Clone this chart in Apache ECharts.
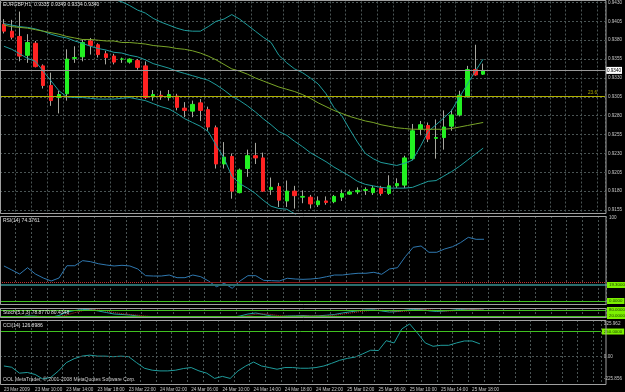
<!DOCTYPE html>
<html><head><meta charset="utf-8">
<script src="https://cdn.jsdelivr.net/npm/echarts@6/dist/echarts.min.js"></script>
<style>html,body{margin:0;padding:0;background:#000;overflow:hidden}#c{width:625px;height:392px}</style>
</head><body><div id="c"></div><script>
const categories = [
'23 Mar 06:00','23 Mar 07:00','23 Mar 08:00','23 Mar 09:00','23 Mar 10:00','23 Mar 11:00','23 Mar 12:00','23 Mar 13:00','23 Mar 14:00','23 Mar 15:00','23 Mar 16:00','23 Mar 17:00','23 Mar 18:00','23 Mar 19:00','23 Mar 20:00','23 Mar 21:00','23 Mar 22:00','23 Mar 23:00',
'24 Mar 00:00','24 Mar 01:00','24 Mar 02:00','24 Mar 03:00','24 Mar 04:00','24 Mar 05:00','24 Mar 06:00','24 Mar 07:00','24 Mar 08:00','24 Mar 09:00','24 Mar 10:00','24 Mar 11:00','24 Mar 12:00','24 Mar 13:00','24 Mar 14:00','24 Mar 15:00','24 Mar 16:00','24 Mar 17:00','24 Mar 18:00','24 Mar 19:00','24 Mar 20:00','24 Mar 21:00','24 Mar 22:00','24 Mar 23:00',
'25 Mar 00:00','25 Mar 01:00','25 Mar 02:00','25 Mar 03:00','25 Mar 04:00','25 Mar 05:00','25 Mar 06:00','25 Mar 07:00','25 Mar 08:00','25 Mar 09:00','25 Mar 10:00','25 Mar 11:00','25 Mar 12:00','25 Mar 13:00','25 Mar 14:00','25 Mar 15:00','25 Mar 16:00','25 Mar 17:00','25 Mar 18:00','25 Mar 19:00'];
const emptySlots = 15;
const firstLabel = '23 Mar 2009';
const labelEvery = 4;

const open  = [0.9401,0.9392,0.9385,0.9360,0.9376,0.9346,0.9320,0.9304,0.9309,0.9356,0.9358,0.9379,0.9374,0.9362,0.9359,0.9355,0.9351,0.9353,0.9346,0.9305,0.9307,0.9304,0.9306,0.9290,0.9286,0.9297,0.9288,0.9264,0.9216,0.9226,0.9178,0.9210,0.9227,0.9224,0.9182,0.9186,0.9167,0.9180,0.9172,0.9172,0.9162,0.9167,0.9166,0.9172,0.9176,0.9179,0.9181,0.9178,0.9184,0.9177,0.9187,0.9188,0.9223,0.9262,0.9267,0.9250,0.9251,0.9266,0.9281,0.9305,0.9341,0.9335];
const close = [0.9392,0.9384,0.9359,0.9377,0.9345,0.9320,0.9300,0.9308,0.9355,0.9357,0.9377,0.9373,0.9361,0.9357,0.9351,0.9355,0.9355,0.9344,0.9304,0.9308,0.9305,0.9308,0.9291,0.9287,0.9295,0.9287,0.9265,0.9216,0.9225,0.9180,0.9208,0.9227,0.9224,0.9180,0.9185,0.9168,0.9180,0.9174,0.9173,0.9163,0.9167,0.9165,0.9173,0.9177,0.9179,0.9181,0.9182,0.9184,0.9177,0.9187,0.9190,0.9224,0.9260,0.9268,0.9249,0.9251,0.9265,0.9281,0.9307,0.9341,0.9334,0.9340];
const low   = [0.9389,0.9381,0.9352,0.9350,0.9344,0.9316,0.9293,0.9283,0.9300,0.9350,0.9352,0.9361,0.9357,0.9348,0.9348,0.9350,0.9349,0.9341,0.9302,0.9300,0.9301,0.9300,0.9287,0.9278,0.9278,0.9273,0.9260,0.9210,0.9210,0.9170,0.9177,0.9199,0.9216,0.9179,0.9175,0.9159,0.9159,0.9157,0.9164,0.9157,0.9159,0.9162,0.9164,0.9167,0.9175,0.9176,0.9175,0.9175,0.9174,0.9175,0.9184,0.9184,0.9221,0.9254,0.9245,0.9223,0.9235,0.9260,0.9279,0.9304,0.9333,0.9334];
const high  = [0.9408,0.9407,0.9418,0.9388,0.9379,0.9348,0.9337,0.9313,0.9368,0.9372,0.9381,0.9383,0.9376,0.9366,0.9362,0.9357,0.9356,0.9355,0.9352,0.9314,0.9313,0.9314,0.9309,0.9298,0.9300,0.9302,0.9292,0.9267,0.9245,0.9230,0.9210,0.9235,0.9244,0.9231,0.9198,0.9191,0.9194,0.9187,0.9181,0.9175,0.9173,0.9173,0.9175,0.9182,0.9182,0.9185,0.9185,0.9187,0.9187,0.9201,0.9197,0.9227,0.9269,0.9273,0.9271,0.9275,0.9287,0.9288,0.9313,0.9346,0.9374,0.9349];

const bbUpper = [0.9436,0.9438,0.9441,0.9444,0.9447,0.9450,0.9454,0.9457,0.9458,0.9455,0.9450,0.9446,0.9442,0.9438,0.9434,0.9431,0.9426,0.9420,0.9416,0.9409,0.9404,0.9400,0.9396,0.9393,0.9392,0.9392,0.9398,0.9405,0.9408,0.9414,0.9408,0.9400,0.9392,0.9384,0.9377,0.9360,0.9350,0.9342,0.9337,0.9330,0.9322,0.9309,0.9291,0.9280,0.9262,0.9245,0.9230,0.9223,0.9218,0.9216,0.9214,0.9217,0.9221,0.9239,0.9259,0.9268,0.9277,0.9287,0.9305,0.9322,0.9339,0.9355];
const bbMiddle = [0.9402,0.9400,0.9398,0.9397,0.9395,0.9392,0.9388,0.9385,0.9383,0.9379,0.9376,0.9372,0.9369,0.9367,0.9364,0.9363,0.9360,0.9358,0.9354,0.9349,0.9346,0.9343,0.9339,0.9336,0.9333,0.9330,0.9327,0.9321,0.9314,0.9306,0.9300,0.9293,0.9285,0.9276,0.9268,0.9259,0.9254,0.9246,0.9239,0.9231,0.9225,0.9219,0.9212,0.9206,0.9200,0.9193,0.9189,0.9187,0.9185,0.9184,0.9184,0.9184,0.9185,0.9189,0.9193,0.9194,0.9200,0.9206,0.9213,0.9221,0.9229,0.9237];
const bbLower = [0.9372,0.9368,0.9362,0.9356,0.9352,0.9339,0.9326,0.9313,0.9305,0.9304,0.9304,0.9303,0.9302,0.9302,0.9302,0.9303,0.9304,0.9302,0.9300,0.9296,0.9292,0.9289,0.9283,0.9276,0.9271,0.9266,0.9259,0.9241,0.9224,0.9200,0.9190,0.9184,0.9177,0.9168,0.9160,0.9157,0.9156,0.9150,0.9141,0.9133,0.9128,0.9129,0.9133,0.9132,0.9138,0.9141,0.9146,0.9148,0.9148,0.9147,0.9146,0.9145,0.9146,0.9139,0.9127,0.9120,0.9123,0.9125,0.9121,0.9120,0.9119,0.9119];
const maLine = [0.9400,0.9398,0.9397,0.9396,0.9394,0.9392,0.9390,0.9388,0.9385,0.9383,0.9381,0.9381,0.9380,0.9379,0.9379,0.9377,0.9377,0.9376,0.9375,0.9373,0.9372,0.9371,0.9369,0.9368,0.9366,0.9363,0.9359,0.9354,0.9348,0.9342,0.9339,0.9335,0.9330,0.9326,0.9322,0.9318,0.9315,0.9312,0.9308,0.9303,0.9297,0.9292,0.9287,0.9283,0.9279,0.9276,0.9273,0.9271,0.9268,0.9266,0.9264,0.9263,0.9262,0.9262,0.9262,0.9262,0.9262,0.9263,0.9265,0.9267,0.9269,0.9271];

const rsi = [42.2,37.4,32.5,40.1,32.5,27.7,24.1,27.7,42.5,42.5,48.6,47.4,44.9,43.4,42.2,43.0,42.2,38.6,30.5,30.1,30.1,31.3,28.1,28.1,31.3,29.3,24.1,17.2,21.3,15.3,24.1,30.5,30.5,24.9,24.5,24.1,27.4,26.5,26.1,26.5,27.4,29.3,31.3,31.3,32.5,33.4,33.4,34.6,32.2,38.6,40.1,53.4,64.7,66.3,58.7,58.7,62.7,65.4,70.2,76.7,74.3,74.3761];
const stochMain = [10,8,12,20,18,10,8,25,60,75,85,85,70,55,40,35,30,20,8,10,12,15,10,8,12,10,6,4,10,8,20,40,50,35,20,15,20,22,25,20,22,28,35,50,62,72,80,82,70,60,65,78,85,85,72,65,70,78,85,88,82,78.877];
const stochSignal = [15,11,10,13,17,16,12,14,31,53,73,82,80,70,55,43,35,28,19,13,10,12,12,11,10,10,9,7,7,7,13,23,37,42,35,23,18,19,22,22,22,23,28,38,49,61,71,78,77,71,65,68,76,83,81,74,69,71,78,84,85,80.4348];
const cci = [-94.8,-107.6,-166.7,-159.8,-179.5,-225.856,-209.0,-144.0,-61.3,-21.9,3.7,13.6,3.7,3.7,-2.2,3.7,-2.2,-61.3,-117.5,-137.0,-144.0,-144.0,-137.0,-120.4,-110.6,-144.0,-166.7,-219.0,-199.0,-219.0,-144.0,-94.8,-55.4,-94.8,-110.6,-127.3,-110.6,-110.6,-117.5,-117.5,-110.6,-94.8,-68.2,-38.6,-18.9,-6.1,27.4,62.9,59.9,158.4,135.8,276.7,325.962,234.3,135.8,102.3,112.1,112.1,135.8,155.5,155.5,126.8986];

const priceTicks = [0.9155,0.9180,0.9205,0.9230,0.9255,0.9280,0.9305,0.9330,0.9355,0.9380,0.9405,0.9430];
const bidPrice = 0.9340;
const fibLevel = 0.93063, fibText = '23.6';
const rsiLevels = {red: 22, teal: 19.3, green: 0};
const rsiRedSegment = [19, 58];
const stochLevels = [80, 20];
const cciLevel = 250;
const cciTicks = [325.962, 0, -225.856];

const FONT = 'Liberation Sans';
const TXT = '#c8c8c8';
const GRIDC = '#4a5454';
const cats = categories.concat(new Array(emptySlots).fill(''));
const wickData = open.map((o,i)=>[o, close[i], low[i], high[i]]);
const bodyData = open.map((o,i)=>[o, close[i], Math.min(o,close[i]), Math.max(o,close[i])]);

const L = -1.7, W = 607.7;
const panes = [
  {top:0, height:214},
  {top:216, height:89},
  {top:308, height:10},
  {top:320, height:65}
];
const chart = echarts.init(document.getElementById('c'), null, {renderer:'canvas'});
const xAxes = panes.map((p,g)=>({
  gridIndex:g, type:'category', data:cats, boundaryGap:true,
  axisLine:{show:false}, axisTick:{show:false},
  axisLabel:{show:g===3, interval:(i)=>i%labelEvery===0 && i<categories.length,
    formatter:(v,i)=> i===0 ? firstLabel : v, align:'left', color:TXT, fontSize:4.6, fontFamily:FONT, margin:3},
  splitLine:{show:true, interval:1, lineStyle:{color:GRIDC, type:[2,2], width:1}}
}));
const greenLab = (txt)=>({show:true, position:'end', distance:1, formatter:txt, backgroundColor:'#7cf000', color:'#1a3a00', fontSize:4.4, fontFamily:FONT, padding:[1,2]});
const option = {
  backgroundColor:'#000',
  animation:false,
  grid: panes.map(p=>({left:L, width:W, top:p.top, height:p.height})),
  xAxis: xAxes,
  yAxis: [
    {gridIndex:0, type:'value', position:'right', min:0.91497, max:0.94313,
     axisLine:{show:false}, axisTick:{show:false, customValues:priceTicks},
     axisLabel:{customValues:priceTicks, formatter:v=>v.toFixed(4), color:TXT, fontSize:4.6, fontFamily:FONT, margin:3},
     splitLine:{show:true, lineStyle:{color:GRIDC, type:[2,2], width:1}}},
    {gridIndex:1, type:'value', position:'right', min:-4.82, max:102.41,
     axisLine:{show:false}, axisTick:{show:false, customValues:[100]},
     axisLabel:{customValues:[100], color:TXT, fontSize:4.6, fontFamily:FONT, margin:3}, splitLine:{show:false}},
    {gridIndex:2, type:'value', position:'right', min:0, max:100,
     axisLine:{show:false}, axisTick:{show:false}, axisLabel:{show:false}, splitLine:{show:false}},
    {gridIndex:3, type:'value', position:'right', min:-275.13, max:365.38,
     axisLine:{show:false}, axisTick:{show:false, customValues:cciTicks},
     axisLabel:{customValues:cciTicks, formatter:v=> v===0 ? '0.00' : v.toFixed(3), color:TXT, fontSize:4.6, fontFamily:FONT, margin:3},
     splitLine:{show:false}}
  ],
  series: [
    {type:'candlestick', xAxisIndex:0, yAxisIndex:0, data:wickData, barWidth:1,
     itemStyle:{color:'#a8a8a0', color0:'#a8a8a0', borderColor:'#a8a8a0', borderColor0:'#a8a8a0', borderWidth:1}},
    {type:'candlestick', xAxisIndex:0, yAxisIndex:0, data:bodyData, barWidth:4,
     itemStyle:{color:'#22f022', color0:'#ff2222', borderColor:'#22f022', borderColor0:'#ff2222', borderWidth:1}},
    {type:'line', xAxisIndex:0, yAxisIndex:0, data:bbUpper, symbol:'none', lineStyle:{color:'#1f9c9c', width:1}},
    {type:'line', xAxisIndex:0, yAxisIndex:0, data:bbMiddle, symbol:'none', lineStyle:{color:'#1f9c9c', width:1}},
    {type:'line', xAxisIndex:0, yAxisIndex:0, data:bbLower, symbol:'none', lineStyle:{color:'#1f9c9c', width:1}},
    {type:'line', xAxisIndex:0, yAxisIndex:0, data:maLine, symbol:'none', lineStyle:{color:'#7aa628', width:1},
     markLine:{silent:true, symbol:['none','none'], precision:6, animation:false, data:[
       {yAxis:bidPrice, lineStyle:{color:'#9a9a9a', type:'solid', width:1},
        label:{show:true, position:'end', distance:1, formatter:bidPrice.toFixed(4), backgroundColor:'#ffffff', color:'#000', fontSize:4.6, fontFamily:FONT, padding:[1,1]}},
       {yAxis:fibLevel, lineStyle:{color:'#b0b000', type:'solid', width:1},
        label:{show:true, position:'insideEndTop', distance:[8,1], formatter:fibText, color:'#b0b000', fontSize:4.6, fontFamily:FONT}}
     ]}},
    {type:'line', xAxisIndex:1, yAxisIndex:1, data:rsi, symbol:'none', lineStyle:{color:'#2f78b0', width:1},
     markLine:{silent:true, symbol:['none','none'], precision:4, data:[
       {yAxis:rsiLevels.red, lineStyle:{color:'#c03030', type:'dotted', width:1}, label:{show:false}},
       [{coord:[rsiRedSegment[0], rsiLevels.red], lineStyle:{color:'#8a1c1c', type:'solid', width:1}, label:{show:false}},
        {coord:[rsiRedSegment[1], rsiLevels.red]}],
       {yAxis:rsiLevels.teal, lineStyle:{color:'#2a6e6e', type:'solid', width:2}, label:greenLab('19.3000')},
       {yAxis:rsiLevels.green, lineStyle:{color:'#40c020', type:'solid', width:1}, label:greenLab('0.0000')}
     ]}},
    {type:'line', xAxisIndex:2, yAxisIndex:2, data:stochMain, symbol:'none', lineStyle:{color:'#1f9c9c', width:1},
     markLine:{silent:true, symbol:['none','none'], data:stochLevels.map(v=>({yAxis:v, lineStyle:{color:'#40c020', type:'solid', width:1}, label:greenLab(v.toFixed(4))}))}},
    {type:'line', xAxisIndex:2, yAxisIndex:2, data:stochSignal, symbol:'none', lineStyle:{color:'#c03030', width:1, type:'dotted'}},
    {type:'line', xAxisIndex:3, yAxisIndex:3, data:cci, symbol:'none', lineStyle:{color:'#1f9c9c', width:1},
     markLine:{silent:true, symbol:['none','none'], data:[
       {yAxis:cciLevel, lineStyle:{color:'#40c020', type:'solid', width:1}, label:greenLab(cciLevel.toFixed(4))},
       {yAxis:0, lineStyle:{color:GRIDC, type:[2,2], width:1}, label:{show:false}}
     ]}}
  ],
  graphic: [
    ...panes.map(p=>({type:'rect', silent:true, z:100, shape:{x:0.5, y:p.top+0.5, width:605.5, height:p.height-1},
      style:{fill:'none', stroke:'#a0a0a0', lineWidth:1}})),
    {type:'text', silent:true, z:101, left:3, top:2, style:{text:'EURGBP,H1  0.9335 0.9349 0.9334 0.9340', fill:'#e0e0e0', font:'5px "Liberation Sans"'}},
    {type:'text', silent:true, z:101, left:3, top:218, style:{text:'RSI(14) 74.3761', fill:'#e0e0e0', font:'5px "Liberation Sans"'}},
    {type:'text', silent:true, z:101, left:3, top:310.5, style:{text:'Stoch(5,3,3) 78.8770 80.4348', fill:'#e0e0e0', font:'5px "Liberation Sans"'}},
    {type:'text', silent:true, z:101, left:3, top:323, style:{text:'CCI(14) 126.8986', fill:'#e0e0e0', font:'5px "Liberation Sans"'}},
    {type:'text', silent:true, z:101, left:3, top:377, style:{text:'OOL MetaTrader, © 2001-2008 MetaQuotes Software Corp.', fill:'#d0d0d0', font:'5px "Liberation Sans"'}}
  ]
};
chart.setOption(option);
</script></body></html>
